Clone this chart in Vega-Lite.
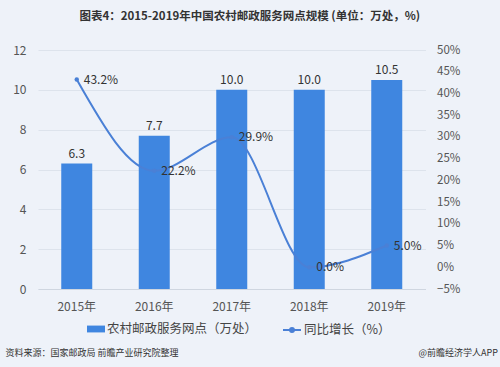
{
  "$schema": "https://vega.github.io/schema/vega-lite/v6.json",
  "width": 387.5,
  "height": 239,
  "autosize": {"type": "none"},
  "padding": {"left": 38, "top": 50, "right": 74, "bottom": 78},
  "background": "#eef2f9",
  "config": {
    "view": {"stroke": null},
    "font": "Noto Sans CJK SC",
    "axis": {"labelFont": "Noto Sans CJK SC", "titleFont": "Noto Sans CJK SC"},
    "legend": {"labelFont": "Noto Sans CJK SC"}
  },
  "title": {
    "text": "图表4：2015-2019年中国农村邮政服务网点规模 (单位：万处，%)",
    "fontSize": 11.5,
    "fontWeight": "bold",
    "color": "#333333",
    "anchor": "middle",
    "frame": "group",
    "dx": 18,
    "offset": 22
  },
  "data": {
    "values": [
      {"year": "2015年", "sites": 6.3, "growth": 0.432},
      {"year": "2016年", "sites": 7.7, "growth": 0.222},
      {"year": "2017年", "sites": 10.0, "growth": 0.299},
      {"year": "2018年", "sites": 10.0, "growth": 0.0},
      {"year": "2019年", "sites": 10.5, "growth": 0.05}
    ]
  },
  "encoding": {
    "x": {
      "field": "year",
      "type": "nominal",
      "sort": null,
      "scale": {"paddingInner": 0.6, "paddingOuter": 0.3},
      "axis": {
        "labelAngle": 0,
        "labelFontSize": 12,
        "labelColor": "#555555",
        "labelPadding": 12,
        "ticks": false,
        "domainColor": "#cfd6e0",
        "title": "资料来源：国家邮政局 前瞻产业研究院整理",
        "titleFontSize": 9,
        "titleFontWeight": "normal",
        "titleColor": "#333333",
        "titleAlign": "left",
        "titleAnchor": "start",
        "titleBaseline": "middle",
        "titleX": -33,
        "titleY": 63
      }
    }
  },
  "layer": [
    {
      "encoding": {
        "y": {
          "field": "sites",
          "type": "quantitative",
          "scale": {"domain": [0, 12]},
          "axis": {
            "values": [0, 2, 4, 6, 8, 10, 12],
            "grid": true,
            "gridColor": "#dde3ec",
            "domain": false,
            "ticks": false,
            "labelFontSize": 12,
            "labelColor": "#555555",
            "labelPadding": 12,
            "title": null
          }
        }
      },
      "layer": [
        {
          "mark": {"type": "bar", "color": "#3f86e0"},
          "encoding": {
            "fill": {
              "datum": "农村邮政服务网点（万处）",
              "type": "nominal",
              "scale": {"range": ["#3f86e0"]},
              "legend": {
                "title": null,
                "orient": "none",
                "legendX": 49,
                "legendY": 270,
                "symbolType": "M-1,-0.38H1V0.38H-1Z",
                "symbolSize": 324,
                "symbolStrokeWidth": 0,
                "labelFontSize": 12.5,
                "labelColor": "#444444",
                "labelOffset": 2
              }
            }
          }
        },
        {
          "mark": {"type": "text", "dy": -10, "fontSize": 12, "color": "#333333"},
          "encoding": {"text": {"field": "sites", "type": "quantitative", "format": ".1f"}}
        }
      ]
    },
    {
      "encoding": {
        "y": {
          "field": "growth",
          "type": "quantitative",
          "scale": {"domain": [-0.05, 0.5]},
          "axis": {
            "orient": "right",
            "values": [-0.05, 0, 0.05, 0.1, 0.15, 0.2, 0.25, 0.3, 0.35, 0.4, 0.45, 0.5],
            "format": ".0%",
            "grid": false,
            "domain": false,
            "ticks": false,
            "labelFontSize": 11.5,
            "labelColor": "#555555",
            "labelPadding": 11,
            "title": "@前瞻经济学人APP",
            "titleAngle": 0,
            "titleFontSize": 9,
            "titleFontWeight": "normal",
            "titleColor": "#333333",
            "titleAlign": "right",
            "titleBaseline": "middle",
            "titleX": 72,
            "titleY": 302
          }
        }
      },
      "layer": [
        {
          "mark": {"type": "line", "interpolate": "monotone", "strokeWidth": 2},
          "encoding": {
            "stroke": {
              "datum": "同比增长（%）",
              "type": "nominal",
              "scale": {"range": ["#4a80d6"]},
              "legend": {
                "title": null,
                "orient": "none",
                "legendX": 244,
                "legendY": 270,
                "symbolType": "M-1,0H1M-0.22,0A0.22,0.22 0 1,0 0.22,0A0.22,0.22 0 1,0 -0.22,0",
                "symbolSize": 324,
                "symbolStrokeWidth": 2,
                "symbolFillColor": "#4a80d6",
                "labelFontSize": 12.5,
                "labelColor": "#444444",
                "labelOffset": 2
              }
            }
          }
        },
        {
          "mark": {"type": "point", "filled": true, "size": 20, "color": "#4a80d6", "opacity": 1}
        },
        {
          "mark": {"type": "text", "align": "left", "baseline": "middle", "dx": 7, "fontSize": 12, "color": "#333333"},
          "encoding": {"text": {"field": "growth", "type": "quantitative", "format": ".1%"}}
        }
      ]
    }
  ],
  "resolve": {"scale": {"y": "independent"}}
}
